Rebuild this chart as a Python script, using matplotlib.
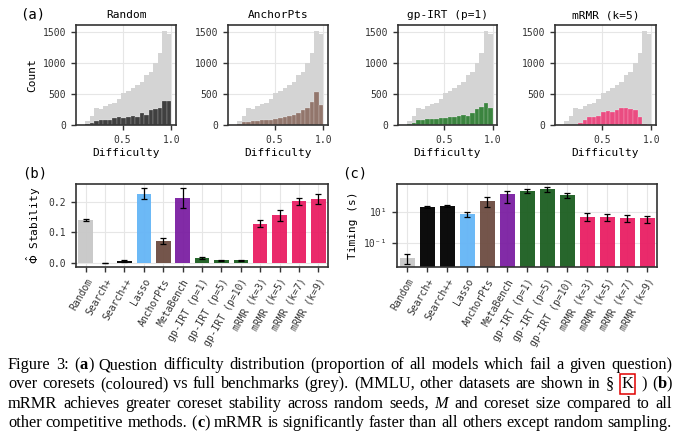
import re
import numpy as np
import matplotlib
matplotlib.use('Agg')
import matplotlib.pyplot as plt

plt.rcParams['font.family'] = ['DejaVu Sans Mono']
plt.rcParams['mathtext.fontset'] = 'dejavusans'
plt.rcParams['axes.edgecolor'] = '#333333'
plt.rcParams['axes.linewidth'] = 1.2
plt.rcParams['xtick.color'] = '#333333'
plt.rcParams['ytick.color'] = '#333333'

# ---- (a) difficulty histograms: 20 bins from 0.07 to 1.0
bin_edges = np.linspace(0.07, 1.0, 21)
full_counts = [10, 75, 145, 270, 255, 315, 335, 365, 420, 525,
               550, 595, 640, 700, 805, 860, 995, 1155, 1510, 1465]
hist_titles = ['Random', 'AnchorPts', 'gp-IRT (p=1)', 'mRMR (k=5)']
coreset_counts = [
    [5, 15, 35, 65, 80, 80, 90, 110, 130, 120, 140, 145, 140, 195, 160, 245, 255, 280, 385, 385],
    [0, 15, 50, 60, 70, 75, 80, 85, 90, 95, 110, 140, 145, 165, 200, 240, 280, 370, 540, 325],
    [0, 15, 40, 85, 85, 95, 100, 105, 110, 120, 125, 135, 150, 160, 155, 200, 260, 300, 355, 275],
    [0, 0, 0, 10, 40, 90, 125, 140, 150, 215, 230, 220, 240, 270, 275, 255, 240, 140, 15, 0],
]
hist_colors = ['#333333', '#8d6e63', '#2e7d32', '#ec407a']

# ---- (b) stability and (c) timing
methods = ['Random', 'Search+', 'Search++', 'Lasso', 'AnchorPts', 'MetaBench',
           'gp-IRT (p=1)', 'gp-IRT (p=5)', 'gp-IRT (p=10)',
           'mRMR (k=3)', 'mRMR (k=5)', 'mRMR (k=7)', 'mRMR (k=9)']
bar_colors = ['#c8c8c8', '#000000', '#000000', '#64b5f6', '#6d4c41', '#7b1fa2',
              '#1b5e20', '#1b5e20', '#1b5e20',
              '#e91e63', '#e91e63', '#e91e63', '#e91e63']
stability = [0.140, -0.001, 0.0055, 0.227, 0.0725, 0.212, 0.0143, 0.0077, 0.0077,
             0.1275, 0.156, 0.201, 0.209]
stability_err = [0.002, 0.001, 0.004, 0.019, 0.010, 0.032, 0.003, 0.002, 0.002,
                 0.012, 0.018, 0.013, 0.015]
timing = [0.0116, 21.2, 25.9, 7.8, 57, 148, 245, 316, 129, 5.2, 5.0, 4.7, 4.1]
timing_lo = [0.0047, 18.2, 23.5, 5.2, 23.5, 39, 174, 214, 91, 2.9, 2.7, 2.35, 2.1]
timing_hi = [0.019, 24.6, 28.6, 11.0, 95, 259, 331, 427, 174, 8.6, 8.2, 7.4, 6.3]

caption_lines = [
    "Figure 3: (**a**) Question difficulty distribution (proportion of all models which fail a given question)",
    "over coresets (coloured) vs full benchmarks (grey). (MMLU, other datasets are shown in § [K] ) (**b**)",
    "mRMR achieves greater coreset stability across random seeds, *M* and coreset size compared to all",
    "other competitive methods. (**c**) mRMR is significantly faster than all others except random sampling.",
]

W, H = 680, 441
fig = plt.figure(figsize=(W / 100, H / 100), dpi=100)


def axes_px(left, top, right, bottom):
    return fig.add_axes([left / W, 1 - bottom / H, (right - left) / W, (bottom - top) / H])


def style_axes(ax):
    ax.grid(True, color='#e6e6e6', linewidth=0.8)
    ax.set_axisbelow(True)
    ax.tick_params(labelsize=7, length=3.5, width=1, color='#333333')


hist_boxes = [(76, 25, 176, 125.3), (228, 25, 328, 125.3),
              (398, 25, 497, 125.3), (555, 25, 656, 125.3)]
centers = (bin_edges[:-1] + bin_edges[1:]) / 2
for i, box in enumerate(hist_boxes):
    ax = axes_px(*box)
    style_axes(ax)
    ax.hist(centers, bins=bin_edges, weights=full_counts, color='#d4d4d4')
    ax.hist(centers, bins=bin_edges, weights=coreset_counts[i], color=hist_colors[i],
            alpha=0.92, edgecolor='white', linewidth=0.15)
    ax.set_ylim(0, 1607)
    ax.set_xticks([0.5, 1.0])
    ax.set_yticks([0, 500, 1000, 1500])
    ax.set_title(hist_titles[i], fontsize=8, pad=5)
    ax.set_xlabel('Difficulty', fontsize=8, labelpad=2)
    if i == 0:
        ax.set_ylabel('Count', fontsize=8)

x = np.arange(len(methods))

ax_b = axes_px(76, 184, 328, 267)
style_axes(ax_b)
ax_b.bar(x, stability, width=0.75, color=bar_colors, alpha=0.95,
         yerr=stability_err, capsize=2.5, error_kw=dict(elinewidth=0.9, capthick=0.9))
ax_b.set_yticks([0.0, 0.1, 0.2])
ax_b.set_xlim(-0.5, len(methods) - 0.5)
ax_b.set_xticks(x)
ax_b.set_xticklabels(methods, rotation=60, ha='right', rotation_mode='anchor', fontsize=7)
ax_b.set_ylabel(r'$\hat{\Phi}$ Stability', fontsize=8)

ax_c = axes_px(397, 184, 657, 267)
style_axes(ax_c)
t = np.array(timing)
yerr = [t - np.array(timing_lo), np.array(timing_hi) - t]
ax_c.bar(x, timing, width=0.75, color=bar_colors, alpha=0.95,
         yerr=yerr, capsize=2.5, error_kw=dict(elinewidth=0.9, capthick=0.9))
ax_c.set_yscale('log')
ax_c.set_ylim(10 ** -2.54, 10 ** 2.85)
ax_c.set_yticks([0.1, 10])
ax_c.set_yticks([], minor=True)
ax_c.set_yticklabels(['10⁻¹', '10¹'])
ax_c.set_xlim(-0.5, len(methods) - 0.5)
ax_c.set_xticks(x)
ax_c.set_xticklabels(methods, rotation=60, ha='right', rotation_mode='anchor', fontsize=7)
ax_c.set_ylabel('Timing (s)', fontsize=8)

fig.text(20 / W, 1 - 14 / H, '(a)', fontsize=10, va='center')
fig.text(22 / W, 1 - 173 / H, '(b)', fontsize=10, va='center')
fig.text(342 / W, 1 - 173 / H, '(c)', fontsize=10, va='center')

# ---- caption, justified between two pixel margins
renderer = fig.canvas.get_renderer()
cap_font = dict(family='Liberation Serif', fontsize=11.8)
left_px, right_px = 8, 672
for li, line in enumerate(caption_lines):
    y = 1 - (369 + li * 19.3) / H
    words = []
    for word in line.split(' '):
        pieces = []
        for part in re.split(r'(\*\*.+?\*\*|\*.+?\*|\[.+?\])', word):
            if not part:
                continue
            kw = dict(cap_font)
            extra = 0
            if part.startswith('**'):
                part = part[2:-2]
                kw['weight'] = 'bold'
            elif part.startswith('*'):
                part = part[1:-1]
                kw['style'] = 'italic'
            elif part.startswith('['):
                part = part[1:-1]
                kw['bbox'] = dict(boxstyle='square,pad=0.12', fc='none', ec='#e00000', lw=1.1)
                extra = 3
            txt = fig.text(0, y, part, va='baseline', **kw)
            w = txt.get_window_extent(renderer).width
            pieces.append((txt, w, extra))
        words.append(pieces)
    total = sum(w + 2 * e for p in words for _, w, e in p)
    gap = (right_px - left_px - total) / (len(words) - 1)
    xpos = left_px
    for pieces in words:
        for txt, w, e in pieces:
            xpos += e
            txt.set_x(xpos / W)
            xpos += w + e
        xpos += gap

fig.savefig('out.png', dpi=100)
